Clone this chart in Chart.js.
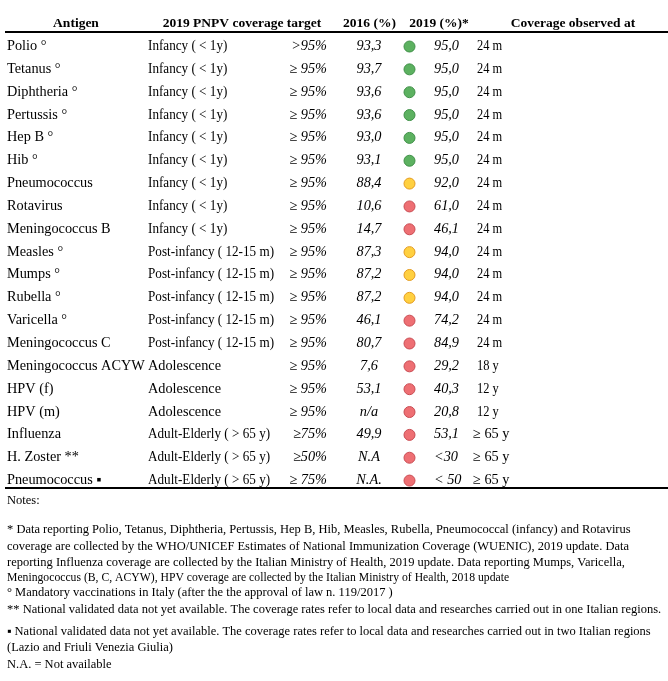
<!DOCTYPE html>
<html>
<head>
<meta charset="utf-8">
<script src="https://cdn.jsdelivr.net/npm/chart.js@4"></script>
<style>
html,body{margin:0;padding:0;background:#fff;}
#wrap{width:668px;height:681px;position:relative;}
</style>
</head>
<body>
<div id="wrap"><canvas id="c" width="668" height="681"></canvas></div>
<script>
const antigens = ["Polio \u00b0","Tetanus \u00b0","Diphtheria \u00b0","Pertussis \u00b0","Hep B \u00b0","Hib \u00b0","Pneumococcus","Rotavirus","Meningococcus B","Measles \u00b0","Mumps \u00b0","Rubella \u00b0","Varicella \u00b0","Meningococcus C","Meningococcus ACYW","HPV (f)","HPV (m)","Influenza","H. Zoster **","Pneumococcus \u25aa"];
const targetGroups = ["Infancy ( < 1y)","Infancy ( < 1y)","Infancy ( < 1y)","Infancy ( < 1y)","Infancy ( < 1y)","Infancy ( < 1y)","Infancy ( < 1y)","Infancy ( < 1y)","Infancy ( < 1y)","Post-infancy ( 12-15 m)","Post-infancy ( 12-15 m)","Post-infancy ( 12-15 m)","Post-infancy ( 12-15 m)","Post-infancy ( 12-15 m)","Adolescence","Adolescence","Adolescence","Adult-Elderly ( > 65 y)","Adult-Elderly ( > 65 y)","Adult-Elderly ( > 65 y)"];
const targets = [">95%","\u2265 95%","\u2265 95%","\u2265 95%","\u2265 95%","\u2265 95%","\u2265 95%","\u2265 95%","\u2265 95%","\u2265 95%","\u2265 95%","\u2265 95%","\u2265 95%","\u2265 95%","\u2265 95%","\u2265 95%","\u2265 95%","\u226575%","\u226550%","\u2265 75%"];
const cov2016 = ["93,3","93,7","93,6","93,6","93,0","93,1","88,4","10,6","14,7","87,3","87,2","87,2","46,1","80,7","7,6","53,1","n/a","49,9","N.A","N.A."];
const cov2019 = ["95,0","95,0","95,0","95,0","95,0","95,0","92,0","61,0","46,1","94,0","94,0","94,0","74,2","84,9","29,2","40,3","20,8","53,1","<30","< 50"];
const status = ["green","green","green","green","green","green","yellow","red","red","yellow","yellow","yellow","red","red","red","red","red","red","red","red"];
const observedAt = ["24 m","24 m","24 m","24 m","24 m","24 m","24 m","24 m","24 m","24 m","24 m","24 m","24 m","24 m","18 y","12 y","12 y","\u2265 65 y","\u2265 65 y","\u2265 65 y"];
const headers = ["Antigen","2019 PNPV coverage target","2016 (%)","2019 (%)*","Coverage observed at"];
const notes = [
  "Notes:",
  "* Data reporting Polio, Tetanus, Diphtheria, Pertussis, Hep B, Hib, Measles, Rubella, Pneumococcal (infancy) and Rotavirus",
  "coverage are collected by the WHO/UNICEF Estimates of National Immunization Coverage (WUENIC), 2019 update. Data",
  "reporting Influenza coverage are collected by the Italian Ministry of Health, 2019 update. Data reporting Mumps, Varicella,",
  "Meningococcus (B, C, ACYW), HPV coverage are collected by the Italian Ministry of Health, 2018 update",
  "\u00b0 Mandatory vaccinations in Italy (after the the approval of law n. 119/2017 )",
  "** National validated data not yet available. The coverage rates refer to local data and researches carried out in one Italian regions.",
  "\u25aa National validated data not yet available. The coverage rates refer to local data and researches carried out in two Italian regions",
  "(Lazio and Friuli Venezia Giulia)",
  "N.A. = Not available"
];

const fills = {green:"#5cb160", yellow:"#ffd040", red:"#ee6f73"};
const borders = {green:"#3f8f47", yellow:"#e39a1f", red:"#c84b52"};

const SERIF = "'Liberation Serif','Times New Roman',serif";
const DOT_X = 411;

function textScaled(ctx, t, x, y, sx) {
  ctx.save();
  ctx.translate(x, y);
  ctx.scale(sx, 1);
  ctx.fillText(t, 0, 0);
  ctx.restore();
}

const tablePlugin = {
  id: 'tableText',
  beforeDatasetsDraw(chart) {
    const ctx = chart.ctx;
    const ys = chart.scales.y;
    ctx.save();
    ctx.fillStyle = '#000';
    ctx.textBaseline = 'middle';
    // header
    const hy = ys.getPixelForValue(-1) - 0.5;
    ctx.font = "bold 13.5px " + SERIF;
    ctx.textAlign = 'center';
    ctx.fillText(headers[0], 76, hy);
    ctx.fillText(headers[1], 242, hy);
    ctx.fillText(headers[2], 369.5, hy);
    ctx.fillText(headers[3], 439, hy);
    ctx.fillText(headers[4], 573, hy);
    // lines
    ctx.strokeStyle = '#000';
    ctx.lineWidth = 2;
    const topLine = Math.round(ys.getPixelForValue(-0.64));
    ctx.beginPath(); ctx.moveTo(5, topLine); ctx.lineTo(668, topLine); ctx.stroke();
    const botLine = Math.round(ys.getPixelForValue(19.33));
    ctx.beginPath(); ctx.moveTo(5, botLine); ctx.lineTo(668, botLine); ctx.stroke();
    // rows
    for (let i = 0; i < antigens.length; i++) {
      const y = ys.getPixelForValue(i) - 0.3;
      ctx.font = "14.3px " + SERIF;
      ctx.textAlign = 'left';
      ctx.fillText(antigens[i], 7, y);
      const tg = targetGroups[i];
      textScaled(ctx, tg, 148, y, tg.indexOf('(') >= 0 ? 0.92 : 1);
      const ob = observedAt[i];
      if (ob.charAt(0) === '\u2265') ctx.fillText(ob, 473, y);
      else textScaled(ctx, ob, 477, y, 0.87);
      ctx.font = "italic 14.3px " + SERIF;
      ctx.textAlign = 'right';
      ctx.fillText(targets[i], 327, y);
      ctx.textAlign = 'center';
      ctx.fillText(cov2016[i], 369, y);
      ctx.textAlign = 'left';
      ctx.fillText(cov2019[i], 434, y);
    }
    // notes
    ctx.font = "12.5px " + SERIF;
    ctx.textAlign = 'left';
    const noteY = [501, 530, 547, 563, 578, 593, 610, 632, 648, 665];
    notes.forEach((t, k) => textScaled(ctx, t, 7, noteY[k], k === 4 ? 0.935 : 1));
    ctx.restore();
  }
};

new Chart(document.getElementById('c'), {
  type: 'scatter',
  data: {
    datasets: [{
      data: status.map((s, i) => ({x: DOT_X, y: i})),
      pointRadius: 5.5,
      pointBorderWidth: 1,
      pointBackgroundColor: status.map(s => fills[s]),
      pointBorderColor: status.map(s => borders[s]),
      pointHoverRadius: 5.5
    }]
  },
  options: {
    responsive: false,
    devicePixelRatio: 1,
    animation: false,
    events: [],
    layout: {padding: {top: 35.1, bottom: 189, left: 0, right: 0}},
    plugins: {legend: {display: false}, tooltip: {enabled: false}},
    scales: {
      x: {type: 'linear', display: false, min: 0, max: 668},
      y: {type: 'linear', display: false, min: -0.5, max: 19.5, reverse: true}
    }
  },
  plugins: [tablePlugin]
});
</script>
</body>
</html>
